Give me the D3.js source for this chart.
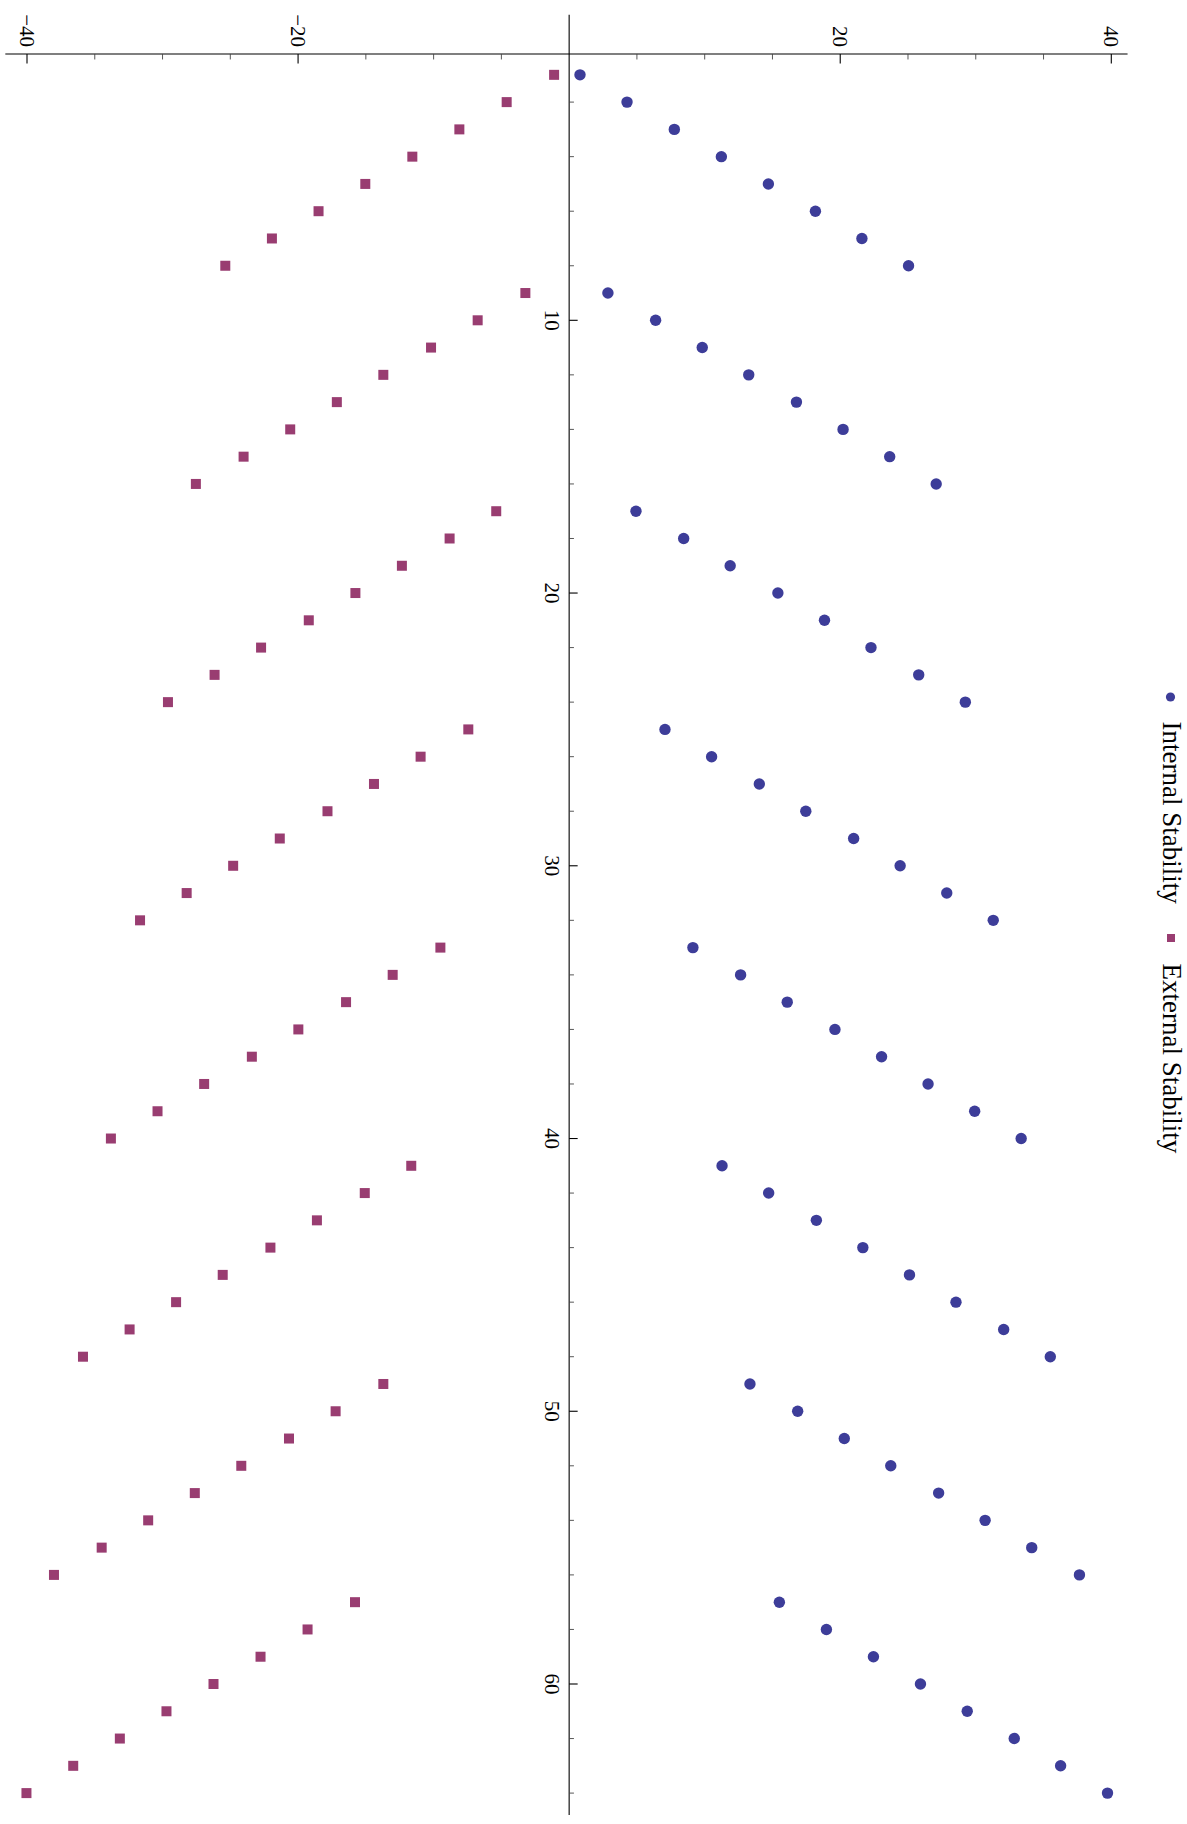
<!DOCTYPE html>
<html>
<head>
<meta charset="utf-8">
<script src="https://cdn.jsdelivr.net/npm/d3@7/dist/d3.min.js"></script>
<style>
  html, body { margin: 0; padding: 0; background: #fff; }
  svg { display: block; }
  text { font-family: "Liberation Serif", "Times New Roman", serif; fill: #000; }
</style>
</head>
<body>
<svg id="chart" width="1187" height="1824"></svg>
<script>
// Step index of every sample (1..64)
const steps = d3.range(1, 65);

// Internal stability per step, eight blocks of eight
const internalStability = [
  0.80, 4.27, 7.76, 11.23, 14.70, 18.17, 21.60, 25.04,
  2.86, 6.38, 9.82, 13.25, 16.77, 20.21, 23.65, 27.08,
  4.93, 8.45, 11.88, 15.40, 18.84, 22.27, 25.79, 29.23,
  7.07, 10.51, 14.03, 17.46, 20.99, 24.42, 27.86, 31.29,
  9.13, 12.65, 16.09, 19.61, 23.05, 26.48, 29.92, 33.35,
  11.28, 14.72, 18.24, 21.67, 25.11, 28.54, 32.06, 35.50,
  13.34, 16.86, 20.30, 23.73, 27.26, 30.69, 34.13, 37.65,
  15.51, 18.98, 22.45, 25.92, 29.37, 32.84, 36.26, 39.72
];

// External stability per step
const externalStability = [
  -1.11, -4.61, -8.10, -11.57, -15.04, -18.49, -21.93, -25.37,
  -3.23, -6.75, -10.19, -13.71, -17.14, -20.58, -24.02, -27.54,
  -5.38, -8.82, -12.34, -15.77, -19.21, -22.73, -26.16, -29.60,
  -7.44, -10.96, -14.40, -17.83, -21.35, -24.79, -28.22, -31.66,
  -9.50, -13.02, -16.46, -19.98, -23.41, -26.93, -30.37, -33.81,
  -11.65, -15.08, -18.61, -22.04, -25.56, -29.00, -32.43, -35.87,
  -13.71, -17.23, -20.67, -24.19, -27.62, -31.06, -34.49, -38.01,
  -15.80, -19.30, -22.77, -26.24, -29.71, -33.15, -36.59, -40.04
];

const seriesNames = ["Internal Stability", "External Stability"];
const valueTickLabels = [-40, -20, 20, 40];
const stepTickLabels = [10, 20, 30, 40, 50, 60];

const colorInternal = "#3d3d99";
const colorExternal = "#993d71";

const svg = d3.select("#chart");

// The plot is turned a quarter turn: steps run down the page, values run across it.
const valueScale = d3.scaleLinear().domain([-40, 40]).range([27, 1111.3]);
const stepScale = d3.scaleLinear().domain([10, 60]).range([320.3, 1684]);

const stepAxisAt = 0;       // value where the step axis sits
const valueAxisAt = 0.235;  // step where the value axis sits
const valueExtent = [-41.6, 41.2];
const stepExtent = [-1.2, 64.8];

const axisX = valueScale(stepAxisAt);
const axisY = stepScale(valueAxisAt);

const tickFont = 21;
const legendFont = 27;

const axes = svg.append("g").attr("class", "axes");

// Value axis (horizontal line)
axes.append("line")
  .attr("x1", valueScale(valueExtent[0])).attr("x2", valueScale(valueExtent[1]))
  .attr("y1", axisY).attr("y2", axisY)
  .attr("stroke", "#000").attr("stroke-width", 1.1);

const valueTicks = d3.range(-40, 41, 5).filter(v => v !== 0);
axes.selectAll("line.vtick").data(valueTicks).join("line")
  .attr("class", "vtick")
  .attr("x1", d => valueScale(d)).attr("x2", d => valueScale(d))
  .attr("y1", axisY)
  .attr("y2", d => axisY + (d % 20 === 0 ? 9.5 : 5.5))
  .attr("stroke", d => d % 20 === 0 ? "#000" : "#444")
  .attr("stroke-width", d => d % 20 === 0 ? 1.1 : 0.9);

const fmt = d3.format("d");
axes.selectAll("text.vlabel").data(valueTickLabels).join("text")
  .attr("class", "vlabel")
  .attr("transform", d => `translate(${valueScale(d)},${axisY - 7}) rotate(90)`)
  .attr("text-anchor", "end")
  .attr("dominant-baseline", "central")
  .attr("font-size", tickFont)
  .text(d => fmt(d));

// Step axis (vertical line)
axes.append("line")
  .attr("x1", axisX).attr("x2", axisX)
  .attr("y1", stepScale(stepExtent[0])).attr("y2", stepScale(stepExtent[1]))
  .attr("stroke", "#000").attr("stroke-width", 1.1);

const stepTicks = d3.range(2, 65, 2);
axes.selectAll("line.stick").data(stepTicks).join("line")
  .attr("class", "stick")
  .attr("y1", d => stepScale(d)).attr("y2", d => stepScale(d))
  .attr("x1", axisX)
  .attr("x2", d => axisX + (d % 10 === 0 ? 8.5 : 4.8))
  .attr("stroke", d => d % 10 === 0 ? "#000" : "#444")
  .attr("stroke-width", d => d % 10 === 0 ? 1.1 : 0.9);

axes.selectAll("text.slabel").data(stepTickLabels).join("text")
  .attr("class", "slabel")
  .attr("transform", d => `translate(${axisX - 24.5},${stepScale(d)}) rotate(90)`)
  .attr("text-anchor", "middle")
  .attr("font-size", tickFont)
  .text(d => fmt(d));

// Points
const marks = svg.append("g").attr("class", "marks");

marks.selectAll("circle.internal").data(steps).join("circle")
  .attr("class", "internal")
  .attr("cx", (d, i) => valueScale(internalStability[i]))
  .attr("cy", d => stepScale(d))
  .attr("r", 5.7)
  .attr("fill", colorInternal);

const sq = 10;
marks.selectAll("rect.external").data(steps).join("rect")
  .attr("class", "external")
  .attr("x", (d, i) => valueScale(externalStability[i]) - sq / 2)
  .attr("y", d => stepScale(d) - sq / 2)
  .attr("width", sq).attr("height", sq)
  .attr("fill", colorExternal);

// Legend, turned like the rest of the plot
const legend = svg.append("g").attr("class", "legend");
legend.append("circle")
  .attr("cx", 1170.5).attr("cy", 697).attr("r", 4.6)
  .attr("fill", colorInternal);
legend.append("text")
  .attr("transform", "translate(1163,721.5) rotate(90)")
  .attr("font-size", legendFont)
  .text(seriesNames[0]);
legend.append("rect")
  .attr("x", 1171 - 4).attr("y", 938 - 4)
  .attr("width", 8).attr("height", 8)
  .attr("fill", colorExternal);
legend.append("text")
  .attr("transform", "translate(1163,963.5) rotate(90)")
  .attr("font-size", legendFont)
  .text(seriesNames[1]);
</script>
</body>
</html>
